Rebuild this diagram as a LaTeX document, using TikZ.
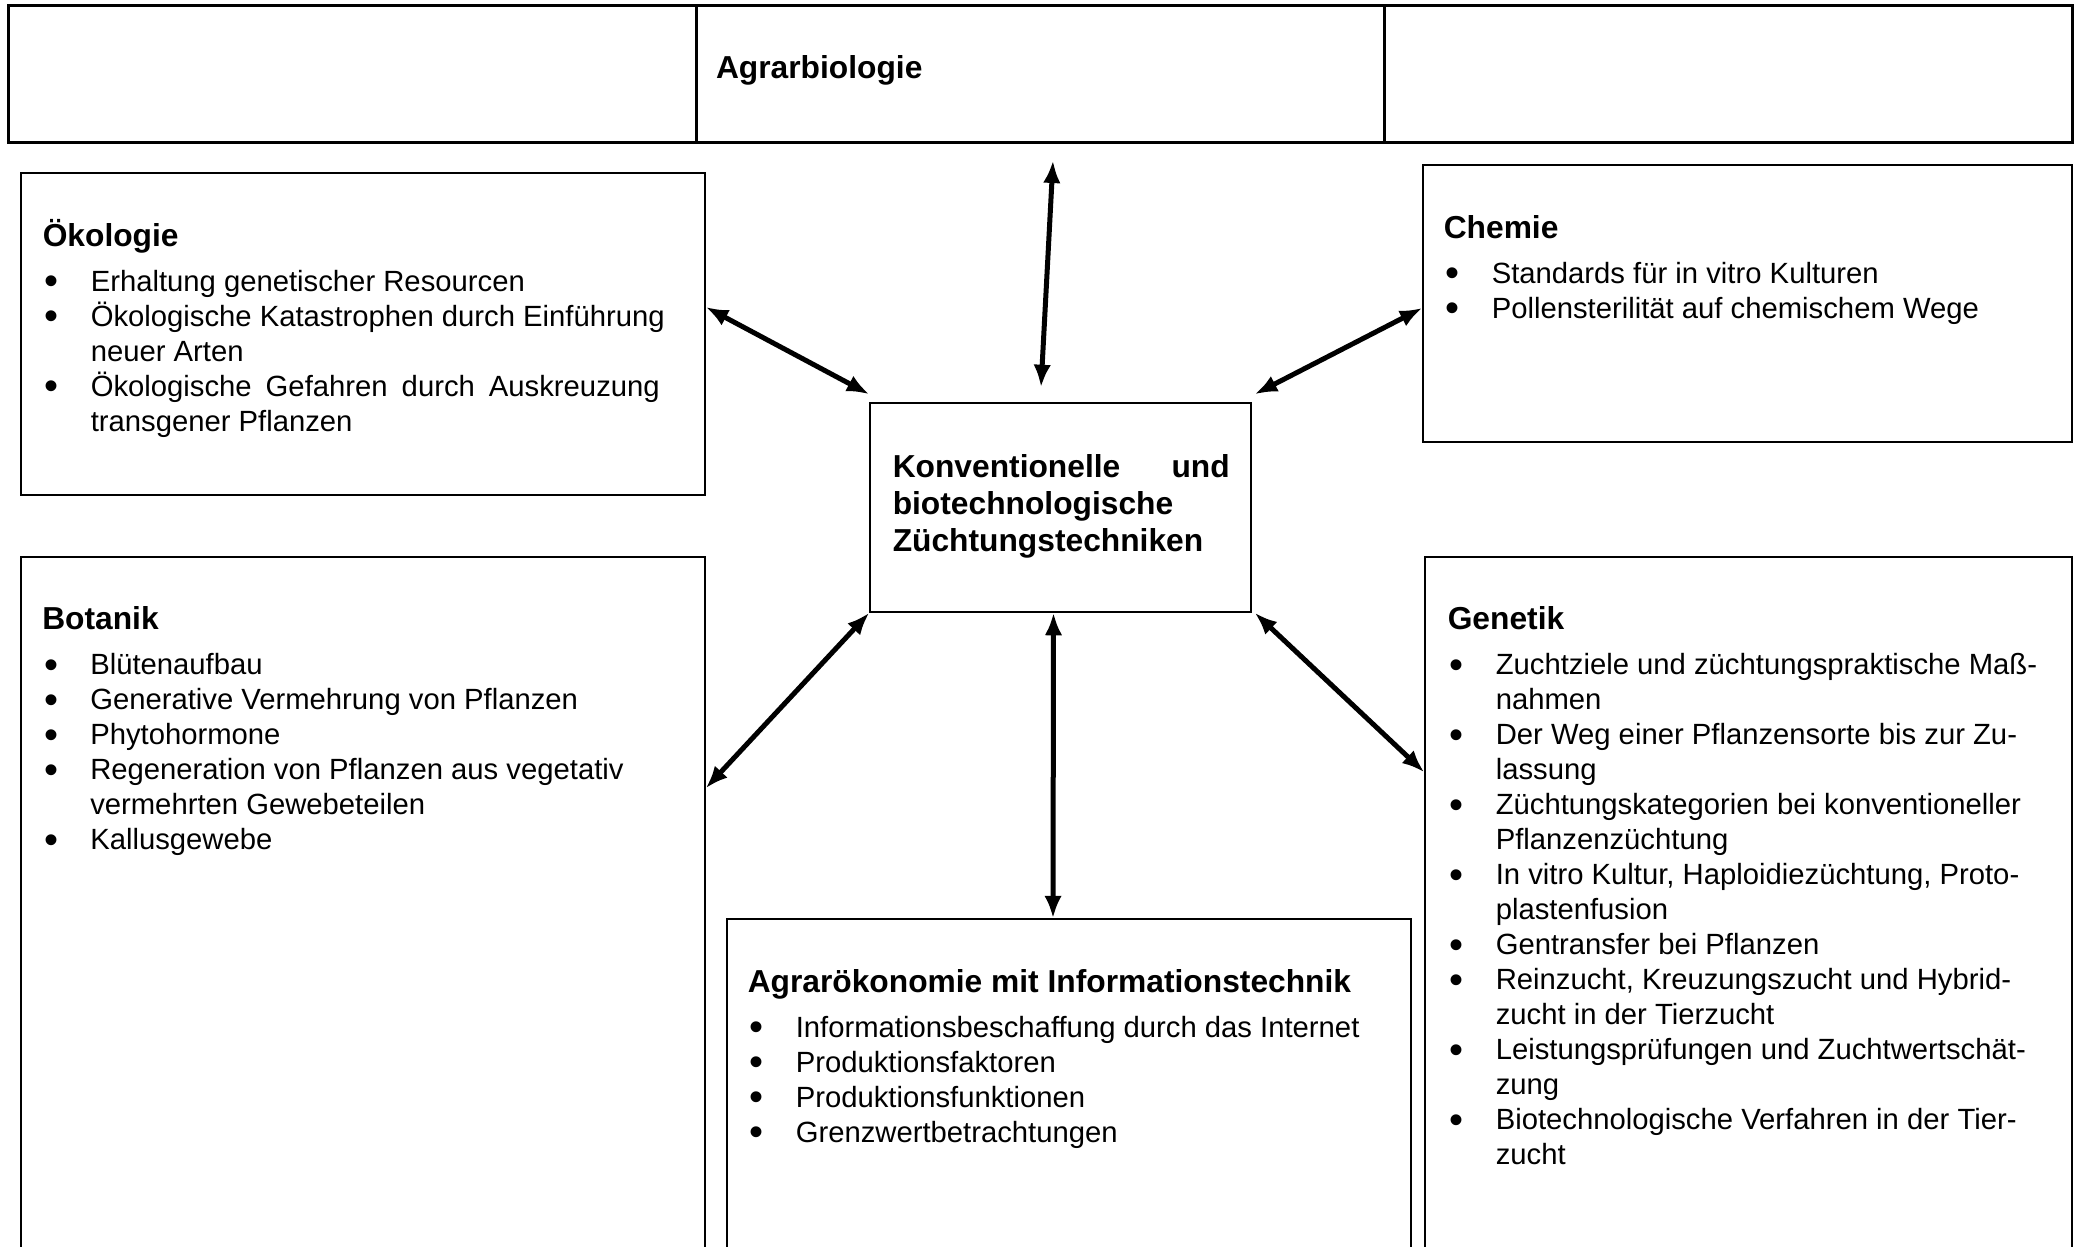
\documentclass[tikz,border=0pt]{standalone}
\usepackage{fontspec}
\setmainfont{Liberation Sans}
\usetikzlibrary{arrows.meta,fit,positioning}
\newcommand\zbul{\llap{\raisebox{-1.4pt}{\fontsize{16pt}{14pt}\selectfont\textbullet}\hspace{12.75pt}}}
\tikzset{
  zucht table/.style={
    draw=black,
    line width=1.2pt,
    inner sep=0pt
  },
  zucht box/.style={
    draw=black,
    line width=0.6pt,
    inner sep=0pt
  },
  zucht head/.style={
    inner sep=0pt,
    anchor=north west,
    align=left,
    font=\fontsize{12.7pt}{14.9pt}\selectfont\bfseries,
    execute at begin node=\rule{0pt}{13pt}
  },
  zucht list/.style={
    inner sep=0pt,
    anchor=north west,
    align=left,
    font=\fontsize{11.7pt}{14pt}\selectfont,
    execute at begin node=\rule{0pt}{11.5pt}
  },
  zucht link/.style={{Latex[length=9pt,width=7pt]}-{Latex[length=9pt,width=7pt]},line width=2pt}
}

\begin{document}
\begin{tikzpicture}[x=0.4pt,y=-0.4pt]
  \clip (0,0) rectangle (2083,1246);
  \node[zucht table,fit={(8,5) (2072,142)}] (tabelle) {};
  \node[zucht table,fit={(696,5) (1384,142)}] (agrar) {};
  \node[zucht box,fit={(21,173) (705,495)}] (oeko) {};
  \node[zucht box,fit={(1423,165) (2072,442)}] (chemie) {};
  \node[zucht box,fit={(870,403) (1251,612)}] (kern) {};
  \node[zucht box,fit={(21,557) (705,1260)}] (botanik) {};
  \node[zucht box,fit={(1425,557) (2072,1260)}] (genetik) {};
  \node[zucht box,fit={(727,919) (1411,1260)}] (oekonomie) {};

  \node[zucht head,below right=16.6pt and 8.4pt of agrar.north west] (agrarh) {Agrarbiologie};
  \node[zucht head,below right=20.5pt and 9.2pt of kern.north west] (kernh) {\makebox[134.8pt][s]{Konventionelle und}\\
    biotechnologische\\
    Züchtungstechniken};

  \node[zucht head,below right=16.4pt and 8.8pt of oeko.north west] (oekoh) {Ökologie};
  \node[zucht list,below right=9.4pt and 19.2pt of oekoh.base west] (oekol) {\zbul Erhaltung genetischer Resourcen\\
    \zbul Ökologische Katastrophen durch Einführung\\
    neuer Arten\\
    \zbul\makebox[227.6pt][s]{Ökologische Gefahren durch Auskreuzung}\\
    transgener Pflanzen};

  \node[zucht head,below right=16.4pt and 8.4pt of chemie.north west] (chemieh) {Chemie};
  \node[zucht list,below right=9.4pt and 19.2pt of chemieh.base west] (chemiel) {\zbul Standards für in vitro Kulturen\\
    \zbul Pollensterilität auf chemischem Wege};

  \node[zucht head,below right=16.2pt and 8.6pt of botanik.north west] (botanikh) {Botanik};
  \node[zucht list,below right=9.4pt and 19.2pt of botanikh.base west] (botanikl) {\zbul Blütenaufbau\\
    \zbul Generative Vermehrung von Pflanzen\\
    \zbul Phytohormone\\
    \zbul Regeneration von Pflanzen aus vegetativ\\
    vermehrten Gewebeteilen\\
    \zbul Kallusgewebe};

  \node[zucht head,below right=16.2pt and 9.2pt of genetik.north west] (genetikh) {Genetik};
  \node[zucht list,below right=9.4pt and 19.2pt of genetikh.base west] (genetikl) {\zbul Zuchtziele und züchtungspraktische Maß-\\
    nahmen\\
    \zbul Der Weg einer Pflanzensorte bis zur Zu-\\
    lassung\\
    \zbul Züchtungskategorien bei konventioneller\\
    Pflanzenzüchtung\\
    \zbul In vitro Kultur, Haploidiezüchtung, Proto-\\
    plastenfusion\\
    \zbul Gentransfer bei Pflanzen\\
    \zbul Reinzucht, Kreuzungszucht und Hybrid-\\
    zucht in der Tierzucht\\
    \zbul Leistungsprüfungen und Zuchtwertschät-\\
    zung\\
    \zbul Biotechnologische Verfahren in der Tier-\\
    zucht};

  \node[zucht head,below right=16.4pt and 8.4pt of oekonomie.north west] (oekonomieh) {Agrarökonomie mit Informationstechnik};
  \node[zucht list,below right=9.4pt and 19.2pt of oekonomieh.base west] (oekonomiel) {\zbul Informationsbeschaffung durch das Internet\\
    \zbul Produktionsfaktoren\\
    \zbul Produktionsfunktionen\\
    \zbul Grenzwertbetrachtungen};

  \draw[zucht link] ([shift={(13,17)}]agrar.south) -- ([shift={(-19.5,-15)}]kern.north);
  \draw[zucht link] ([shift={(0,-27)}]oeko.east) -- ([shift={(0,-8)}]kern.north west);
  \draw[zucht link] ([shift={(0,4.5)}]chemie.west) -- ([shift={(3,-8)}]kern.north east);
  \draw[zucht link] (kern.south west) -- ([shift={(0,232)}]botanik.north east);
  \draw[zucht link] ([shift={(3,0)}]kern.south east) -- ([shift={(0,216)}]genetik.north west);
  \draw[zucht link] ([shift={(-7,0)}]kern.south) -- ([shift={(-16,0)}]oekonomie.north);
\end{tikzpicture}
\end{document}
